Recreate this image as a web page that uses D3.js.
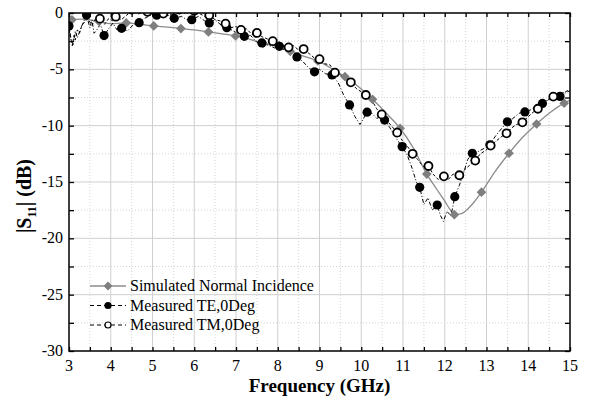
<!DOCTYPE html>
<html>
<head>
<meta charset="utf-8">
<script src="https://cdn.jsdelivr.net/npm/d3@7"></script>
<style>
  body { margin: 0; background: #fff; }
</style>
</head>
<body>
<div class="chart"></div>
<script>
// Data
//= ================================
// simulated curve (gray solid line) and its diamond markers
var simFreq = [3.0, 3.3, 3.72, 4.0, 4.37, 4.7, 5.03, 5.35, 5.68, 6.0, 6.34, 6.67, 6.99, 7.3, 7.65, 8.0, 8.3, 8.6, 8.96, 9.3, 9.61, 9.95, 10.27, 10.6, 10.93, 11.25, 11.57, 11.8, 12.0, 12.12, 12.23, 12.4, 12.55, 12.7, 12.88, 13.2, 13.54, 13.85, 14.2, 14.5, 14.86, 15.0];
var simDb = [-0.6, -0.55, -0.75, -0.95, -0.88, -1.0, -1.15, -1.25, -1.38, -1.5, -1.68, -1.85, -2.04, -2.3, -2.7, -3.0, -3.4, -3.8, -4.25, -4.95, -5.65, -6.6, -7.66, -8.9, -10.23, -12.0, -14.3, -15.6, -16.7, -17.4, -17.9, -17.8, -17.4, -16.8, -15.9, -14.1, -12.45, -11.1, -9.85, -8.9, -8.0, -7.75];
var simMarkFreq = [3.07, 3.72, 4.37, 5.03, 5.68, 6.34, 6.99, 7.65, 8.3, 8.96, 9.61, 10.27, 10.93, 11.57, 12.23, 12.88, 13.54, 14.2, 14.86];
var simMarkDb = [-0.6, -0.75, -0.88, -1.15, -1.38, -1.68, -2.04, -2.7, -3.4, -4.25, -5.65, -7.66, -10.23, -14.3, -17.9, -15.9, -12.45, -9.85, -8.0];

// measured TE (dash-dot line, filled circles)
var teFreq = [3.0, 3.05, 3.1, 3.15, 3.2, 3.3, 3.42, 3.5, 3.55, 3.6, 3.65, 3.75, 3.84, 3.95, 4.05, 4.15, 4.26, 4.4, 4.55, 4.68, 4.8, 4.95, 5.1, 5.25, 5.4, 5.52, 5.7, 5.82, 5.94, 6.1, 6.25, 6.36, 6.5, 6.65, 6.78, 6.95, 7.08, 7.2, 7.35, 7.5, 7.62, 7.8, 7.92, 8.04, 8.2, 8.33, 8.46, 8.6, 8.75, 8.88, 9.0, 9.15, 9.3, 9.45, 9.58, 9.72, 9.85, 9.97, 10.05, 10.14, 10.25, 10.37, 10.47, 10.56, 10.69, 10.85, 10.98, 11.1, 11.22, 11.32, 11.4, 11.5, 11.6, 11.7, 11.82, 11.9, 11.97, 12.05, 12.15, 12.24, 12.35, 12.45, 12.55, 12.66, 12.8, 12.95, 13.08, 13.2, 13.35, 13.5, 13.62, 13.78, 13.92, 14.05, 14.2, 14.34, 14.5, 14.62, 14.76, 14.88, 15.0];
var teDb = [-1.0, -2.4, -2.8, -1.6, -2.2, -1.2, -0.2, -1.3, -0.6, -1.8, -1.6, -1.0, -2.0, -1.4, -0.9, -1.5, -1.36, -1.6, -1.0, -0.86, -0.5, -0.2, -0.15, -0.3, -0.2, -0.47, -0.3, -0.6, -0.6, -0.3, -0.7, -0.88, -0.6, -1.1, -1.3, -1.6, -2.1, -2.07, -2.0, -2.6, -2.66, -2.9, -3.1, -2.96, -3.4, -3.6, -3.9, -4.3, -4.9, -5.22, -5.0, -5.4, -5.5, -6.2, -7.3, -8.16, -9.2, -9.9, -9.4, -8.8, -8.9, -9.35, -9.2, -9.5, -10.2, -11.2, -11.86, -12.6, -13.8, -15.0, -15.47, -17.0, -16.4, -17.5, -17.04, -18.0, -18.5, -17.6, -18.0, -16.3, -15.3, -14.2, -13.0, -12.45, -12.3, -12.0, -11.7, -11.0, -10.3, -9.66, -9.4, -8.9, -8.78, -8.6, -8.2, -8.03, -7.6, -7.5, -7.4, -7.1, -6.9];
var teMarkFreq = [3.0, 3.42, 3.84, 4.26, 4.68, 5.1, 5.52, 5.94, 6.36, 6.78, 7.2, 7.62, 8.04, 8.46, 8.88, 9.3, 9.72, 10.14, 10.56, 10.98, 11.4, 11.82, 12.24, 12.66, 13.08, 13.5, 13.92, 14.34, 14.76];
var teMarkDb = [-1.15, -0.18, -2.0, -1.36, -0.86, -0.2, -0.47, -0.6, -0.88, -1.3, -2.07, -2.66, -2.96, -3.9, -5.22, -5.5, -8.16, -8.8, -9.5, -11.86, -15.47, -17.04, -16.3, -12.45, -11.7, -9.66, -8.78, -8.03, -7.4];

// measured TM (dashed line, open circles)
var tmFreq = [3.0, 3.04, 3.08, 3.12, 3.15, 3.2, 3.25, 3.3, 3.35, 3.45, 3.55, 3.65, 3.74, 3.85, 3.95, 4.05, 4.12, 4.25, 4.38, 4.5, 4.65, 4.78, 4.88, 5.0, 5.12, 5.26, 5.4, 5.52, 5.64, 5.8, 5.9, 6.0, 6.15, 6.25, 6.36, 6.5, 6.62, 6.75, 6.88, 7.0, 7.12, 7.25, 7.38, 7.5, 7.62, 7.75, 7.88, 8.0, 8.12, 8.26, 8.38, 8.5, 8.62, 8.75, 8.88, 9.0, 9.12, 9.25, 9.37, 9.5, 9.62, 9.75, 9.88, 10.0, 10.11, 10.25, 10.37, 10.49, 10.6, 10.72, 10.86, 10.98, 11.1, 11.23, 11.35, 11.48, 11.61, 11.72, 11.85, 11.98, 12.08, 12.2, 12.35, 12.45, 12.6, 12.73, 12.85, 12.98, 13.1, 13.22, 13.35, 13.48, 13.6, 13.72, 13.86, 14.0, 14.12, 14.23, 14.35, 14.48, 14.6, 14.75, 14.88, 15.0];
var tmDb = [-1.5, -2.2, -2.9, -2.0, -2.4, -1.5, -1.8, -1.2, -0.9, -0.5, -1.1, -0.4, -0.5, -1.0, -0.5, -0.7, -0.33, -0.6, -0.2, 0.2, -0.1, 0.1, 0.1, -0.2, 0.1, -0.05, -0.25, 0.1, 0.3, -0.1, 0.2, 0.2, -0.1, -0.3, -0.2, -0.6, -0.7, -0.95, -1.3, -1.2, -1.5, -1.4, -1.9, -1.77, -2.1, -2.3, -2.5, -2.4, -2.9, -3.05, -2.9, -3.3, -3.2, -3.6, -4.0, -4.1, -4.5, -4.6, -5.3, -5.5, -5.8, -6.15, -6.7, -7.0, -7.28, -7.7, -8.5, -9.0, -9.5, -10.0, -10.62, -11.3, -11.8, -12.5, -13.0, -13.6, -13.58, -14.3, -14.8, -14.5, -14.8, -14.3, -14.4, -14.0, -13.5, -13.1, -12.5, -12.2, -11.77, -11.4, -11.0, -10.68, -10.2, -9.9, -9.7, -9.2, -8.8, -8.5, -8.1, -7.7, -7.42, -7.2, -7.0, -6.8];
var tmMarkFreq = [3.74, 4.12, 4.5, 4.88, 5.26, 5.64, 6.0, 6.36, 6.75, 7.12, 7.5, 7.88, 8.26, 8.62, 9.0, 9.37, 9.75, 10.11, 10.49, 10.86, 11.23, 11.61, 11.98, 12.35, 12.73, 13.1, 13.48, 13.86, 14.23, 14.6];
var tmMarkDb = [-0.5, -0.33, 0.3, 0.1, -0.05, 0.3, 0.2, -0.2, -0.95, -1.5, -1.77, -2.5, -3.05, -3.2, -4.1, -5.3, -6.15, -7.28, -9.0, -10.62, -12.5, -13.58, -14.5, -14.4, -13.1, -11.77, -10.68, -9.7, -8.5, -7.42];

var xTicks = [3, 4, 5, 6, 7, 8, 9, 10, 11, 12, 13, 14, 15];
var yTicks = [0, -5, -10, -15, -20, -25, -30];
var legendLabels = ["Simulated Normal Incidence", "Measured TE,0Deg", "Measured TM,0Deg"];

var serif = "'Liberation Serif', 'Times New Roman', 'DejaVu Serif', serif";

// Step 0: Set up our chart
//= ================================
var svgWidth = 592;
var svgHeight = 400;

var margin = { top: 13, right: 22, bottom: 49, left: 69 };

var width = svgWidth - margin.left - margin.right;
var height = svgHeight - margin.top - margin.bottom;

var svg = d3
  .select(".chart")
  .append("svg")
  .attr("width", svgWidth)
  .attr("height", svgHeight)
  .style("font-family", serif);

var chart = svg
  .append("g")
  .attr("transform", "translate(" + margin.left + "," + margin.top + ")");

var xScale = d3.scaleLinear().domain([3, 15]).range([0, width]);
var yScale = d3.scaleLinear().domain([-30, 0]).range([height, 0]);

// minor grid (dotted) at half steps, major grid (solid)
var xMinor = d3.range(3.5, 15, 1);
var yMinor = d3.range(-27.5, 0, 5);

chart.append("g").selectAll("line")
  .data(xMinor)
  .enter()
  .append("line")
  .attr("x1", function(d) { return xScale(d); })
  .attr("x2", function(d) { return xScale(d); })
  .attr("y1", 0)
  .attr("y2", height)
  .attr("stroke", "#d4d4d4")
  .attr("stroke-dasharray", "1,2");

chart.append("g").selectAll("line")
  .data(yMinor)
  .enter()
  .append("line")
  .attr("x1", 0)
  .attr("x2", width)
  .attr("y1", function(d) { return yScale(d); })
  .attr("y2", function(d) { return yScale(d); })
  .attr("stroke", "#d4d4d4")
  .attr("stroke-dasharray", "1,2");

chart.append("g").selectAll("line")
  .data(xTicks.slice(1, -1))
  .enter()
  .append("line")
  .attr("x1", function(d) { return xScale(d); })
  .attr("x2", function(d) { return xScale(d); })
  .attr("y1", 0)
  .attr("y2", height)
  .attr("stroke", "#cfcfcf");

chart.append("g").selectAll("line")
  .data(yTicks.slice(1, -1))
  .enter()
  .append("line")
  .attr("x1", 0)
  .attr("x2", width)
  .attr("y1", function(d) { return yScale(d); })
  .attr("y2", function(d) { return yScale(d); })
  .attr("stroke", "#cfcfcf");

// clip the data to the plot frame
chart.append("clipPath")
  .attr("id", "plot-clip")
  .append("rect")
  .attr("width", width)
  .attr("height", height);

var plot = chart.append("g").attr("clip-path", "url(#plot-clip)");

function pairs(xs, ys) {
  return xs.map(function(x, i) { return [x, ys[i]]; });
}

var line = d3.line()
  .x(function(d) { return xScale(d[0]); })
  .y(function(d) { return yScale(d[1]); });

var smoothLine = d3.line()
  .curve(d3.curveMonotoneX)
  .x(function(d) { return xScale(d[0]); })
  .y(function(d) { return yScale(d[1]); });

// simulated
plot.append("path")
  .datum(pairs(simFreq, simDb))
  .attr("d", smoothLine)
  .attr("fill", "none")
  .attr("stroke", "#8c8c8c")
  .attr("stroke-width", 1.3);

// measured lines
plot.append("path")
  .datum(pairs(teFreq, teDb))
  .attr("d", line)
  .attr("fill", "none")
  .attr("stroke", "#000")
  .attr("stroke-width", 1)
  .attr("stroke-dasharray", "4,2,1,2");

plot.append("path")
  .datum(pairs(tmFreq, tmDb))
  .attr("d", line)
  .attr("fill", "none")
  .attr("stroke", "#000")
  .attr("stroke-width", 1)
  .attr("stroke-dasharray", "3,2");

// markers
var diamond = d3.symbol().type(d3.symbolDiamond2).size(60);

plot.append("g").selectAll("path")
  .data(pairs(simMarkFreq, simMarkDb))
  .enter()
  .append("path")
  .attr("d", diamond)
  .attr("transform", function(d) {
    return "translate(" + xScale(d[0]) + "," + yScale(d[1]) + ")";
  })
  .attr("fill", "#7f7f7f");

plot.append("g").selectAll("circle")
  .data(pairs(teMarkFreq, teMarkDb))
  .enter()
  .append("circle")
  .attr("cx", function(d) { return xScale(d[0]); })
  .attr("cy", function(d) { return yScale(d[1]); })
  .attr("r", 4.6)
  .attr("fill", "#000");

plot.append("g").selectAll("circle")
  .data(pairs(tmMarkFreq, tmMarkDb))
  .enter()
  .append("circle")
  .attr("cx", function(d) { return xScale(d[0]); })
  .attr("cy", function(d) { return yScale(d[1]); })
  .attr("r", 4)
  .attr("fill", "#fff")
  .attr("stroke", "#000")
  .attr("stroke-width", 1.8);

// Axes with inward ticks on all four sides
var minorX = d3.range(3, 15.01, 0.5);
var minorY = d3.range(-30, 0.01, 2.5);

chart.append("g")
  .attr("transform", "translate(0," + height + ")")
  .call(d3.axisBottom(xScale).tickValues(minorX).tickSize(-4).tickFormat(""));

chart.append("g")
  .call(d3.axisTop(xScale).tickValues(minorX).tickSize(-4).tickFormat(""));

chart.append("g")
  .call(d3.axisLeft(yScale).tickValues(minorY).tickSize(-5).tickFormat(""));

chart.append("g")
  .attr("transform", "translate(" + width + ",0)")
  .call(d3.axisRight(yScale).tickValues(minorY).tickSize(-5).tickFormat(""));

chart.selectAll(".domain").remove();
chart.selectAll(".tick line").attr("stroke", "#000").attr("stroke-width", 1.3);

chart.append("rect")
  .attr("width", width)
  .attr("height", height)
  .attr("fill", "none")
  .attr("stroke", "#000")
  .attr("stroke-width", 1.5);

// tick labels
chart.append("g").selectAll("text")
  .data(xTicks)
  .enter()
  .append("text")
  .attr("x", function(d) { return xScale(d); })
  .attr("y", height + 20)
  .attr("text-anchor", "middle")
  .attr("font-family", serif)
  .attr("font-size", "16px")
  .text(function(d) { return d; });

chart.append("g").selectAll("text")
  .data(yTicks)
  .enter()
  .append("text")
  .attr("x", -6)
  .attr("y", function(d) { return yScale(d) + 5; })
  .attr("text-anchor", "end")
  .attr("font-family", serif)
  .attr("font-size", "16px")
  .text(function(d) { return d; });

// Axis titles
svg.append("text")
  .attr("x", margin.left + width / 2)
  .attr("y", 392)
  .attr("text-anchor", "middle")
  .attr("font-family", serif)
  .attr("font-size", "19px")
  .attr("font-weight", "bold")
  .text("Frequency (GHz)");

var yTitle = svg.append("text")
  .attr("transform", "translate(31,196) rotate(-90)")
  .attr("text-anchor", "middle")
  .attr("font-family", serif)
  .attr("font-size", "20px")
  .attr("font-weight", "bold");
yTitle.append("tspan").text("|S");
yTitle.append("tspan").attr("font-size", "12px").attr("dy", 5).text("11");
yTitle.append("tspan").attr("dy", -5).text("| (dB)");

// Legend
var legend = svg.append("g").attr("transform", "translate(90,286)");
var rowGap = 19.5;

legend.append("line")
  .attr("x1", 0).attr("x2", 36).attr("y1", 0).attr("y2", 0)
  .attr("stroke", "#8c8c8c").attr("stroke-width", 1.3);
legend.append("path")
  .attr("d", d3.symbol().type(d3.symbolDiamond2).size(50))
  .attr("transform", "translate(18,0)")
  .attr("fill", "#7f7f7f");

legend.append("line")
  .attr("x1", 0).attr("x2", 36).attr("y1", rowGap).attr("y2", rowGap)
  .attr("stroke", "#000").attr("stroke-dasharray", "4,3");
legend.append("circle")
  .attr("cx", 18).attr("cy", rowGap).attr("r", 3.6)
  .attr("fill", "#000");

legend.append("line")
  .attr("x1", 0).attr("x2", 36).attr("y1", rowGap * 2).attr("y2", rowGap * 2)
  .attr("stroke", "#000").attr("stroke-dasharray", "4,3");
legend.append("circle")
  .attr("cx", 18).attr("cy", rowGap * 2).attr("r", 3)
  .attr("fill", "#fff").attr("stroke", "#000").attr("stroke-width", 1.2);

legend.selectAll("text.legend-label")
  .data(legendLabels)
  .enter()
  .append("text")
  .attr("class", "legend-label")
  .attr("x", 40)
  .attr("y", function(d, i) { return i * rowGap + 5; })
  .attr("font-family", serif)
  .attr("font-size", "16px")
  .text(function(d) { return d; });
</script>
</body>
</html>
